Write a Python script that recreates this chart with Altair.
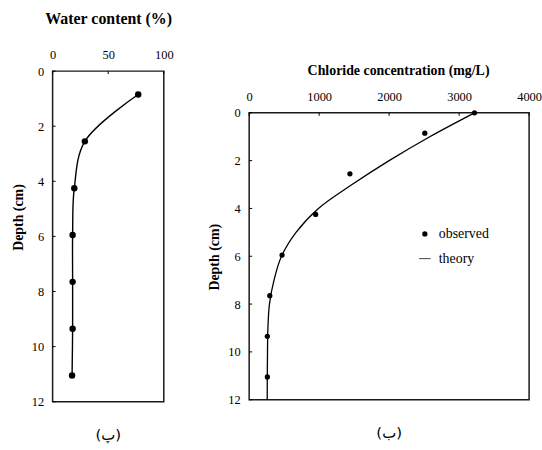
import altair as alt
import pandas as pd

# Water-content profile (measured)
wc_depth = [0.85, 2.55, 4.25, 5.95, 7.65, 9.35, 11.05]
wc_value = [77, 29, 19.5, 18, 18, 18, 17.5]

# Chloride profile: measured points
cl_depth = [0, 0.85, 2.55, 4.25, 5.95, 7.65, 9.35, 11.05]
cl_value = [3220, 2510, 1440, 950, 470, 295, 260, 260]

# Chloride profile: model curve
th_depth = [0, 1, 2, 3, 4, 5, 6, 7, 8, 9, 10, 11, 12]
th_value = [3220, 2580, 2000, 1470, 990, 670, 462, 355, 290, 268, 262, 259, 258]

depth_ticks = [0, 2, 4, 6, 8, 10, 12]
wc_ticks = [0, 50, 100]
cl_ticks = [0, 1000, 2000, 3000, 4000]

SERIF = "Liberation Serif"
ARABIC = "DejaVu Sans"
INK = "black"
FRAME = "#1a1a1a"
PANEL_H = 333          # both panels share this outer height
CL_TOP = 42            # the chloride frame starts this far below the panel top


def depth_axis(title_y):
    return alt.Axis(values=depth_ticks, title="Depth (cm)", tickSize=0, labelPadding=9,
                    domain=False, grid=False, titleFontSize=14, titlePadding=6,
                    titleY=title_y, format="d")


# ---------------- left panel: water content ----------------
wc_df = pd.DataFrame({"depth": wc_depth, "wc": wc_value})
wc_x = alt.X("wc:Q", scale=alt.Scale(domain=[0, 100], nice=False),
             axis=alt.Axis(orient="top", values=wc_ticks, title="Water content (%)",
                           titleFontSize=16, titlePadding=22, tickSize=0, labelPadding=10,
                           domain=False, grid=False, format="d"))
wc_y = alt.Y("depth:Q", scale=alt.Scale(domain=[0, 12], reverse=True, nice=False),
             axis=depth_axis(147))

wc_line = alt.Chart(wc_df).mark_line(interpolate="catmull-rom", color=INK, strokeWidth=1.4).encode(
    x=wc_x, y=wc_y, order=alt.Order("depth:Q"))
wc_pts = alt.Chart(wc_df).mark_circle(size=42, color=INK, opacity=1).encode(x=wc_x, y=wc_y)

# short inward tick marks along the frame
wc_yt = alt.Chart(pd.DataFrame({"depth": depth_ticks})).mark_rule(color=INK, strokeWidth=1).encode(
    y=wc_y, x=alt.value(0), x2=alt.value(3))
wc_xt = alt.Chart(pd.DataFrame({"wc": wc_ticks})).mark_rule(color=INK, strokeWidth=1).encode(
    x=wc_x, y=alt.value(0), y2=alt.value(3))

left = alt.layer(wc_line, wc_pts, wc_yt, wc_xt).properties(
    width=112, height=PANEL_H,
    view=alt.ViewConfig(stroke=FRAME, strokeWidth=1.5),
    title=alt.TitleParams("(پ)", orient="bottom", font=ARABIC, fontSize=15,
                          fontWeight="normal", color=INK, offset=20))

# ---------------- right panel: chloride ----------------
cl_df = pd.DataFrame({"depth": cl_depth, "cl": cl_value, "kind": ["observed"] * len(cl_depth)})
th_df = pd.DataFrame({"depth": th_depth, "cl": th_value})

cl_x = alt.X("cl:Q", scale=alt.Scale(domain=[0, 4000], nice=False),
             axis=alt.Axis(orient="top", values=cl_ticks, title="Chloride concentration (mg/L)",
                           titleFontSize=14, titlePadding=14, tickSize=0, labelPadding=9,
                           domain=False, grid=False, titleX=150, offset=-CL_TOP, format="d"))
cl_y = alt.Y("depth:Q", scale=alt.Scale(domain=[0, 12], range=[CL_TOP, PANEL_H - 2], nice=False),
             axis=depth_axis(CL_TOP + 145))

# plot frame spanning the full data domain
frame_df = pd.DataFrame({"cl": [0], "cl_end": [4000], "depth": [0], "depth_end": [12]})
frame = alt.Chart(frame_df).mark_rect(fillOpacity=0, stroke=FRAME, strokeWidth=1.5).encode(
    x=cl_x, x2="cl_end:Q", y=cl_y, y2="depth_end:Q")

th_line = alt.Chart(th_df).mark_line(interpolate="catmull-rom", color=INK, strokeWidth=1.3).encode(
    x=cl_x, y=cl_y, order=alt.Order("depth:Q"))

cl_pts = alt.Chart(cl_df).mark_point(filled=True, size=28, color=INK, opacity=1).encode(
    x=cl_x, y=cl_y,
    shape=alt.Shape("kind:N",
                    scale=alt.Scale(domain=["observed", "theory"],
                                    range=["circle", "M-2.2,-0.14H2.2V0.14H-2.2Z"]),
                    legend=alt.Legend(title=None, orient="none", legendX=170, legendY=157,
                                      labelFont=SERIF, labelFontSize=14, labelColor=INK,
                                      symbolSize=28, symbolFillColor=INK, symbolStrokeColor=INK,
                                      symbolStrokeWidth=0, rowPadding=11, labelOffset=7)))

cl_yt = alt.Chart(pd.DataFrame({"depth": depth_ticks})).mark_rule(color=INK, strokeWidth=1).encode(
    y=cl_y, x=alt.value(0), x2=alt.value(3))
cl_xt = alt.Chart(pd.DataFrame({"cl": cl_ticks})).mark_rule(color=INK, strokeWidth=1).encode(
    x=cl_x, y=alt.value(CL_TOP), y2=alt.value(CL_TOP + 3))

right = alt.layer(frame, th_line, cl_pts, cl_yt, cl_xt).properties(
    width=282, height=PANEL_H,
    view=alt.ViewConfig(strokeOpacity=0),
    title=alt.TitleParams("(ب)", orient="bottom", font=ARABIC, fontSize=15,
                          fontWeight="normal", color=INK, offset=20))

chart = alt.hconcat(left, right, spacing=33).resolve_legend(shape="independent").properties(
    padding={"left": 10, "top": 8, "right": 0, "bottom": 0}
).configure_axis(
    labelFont=SERIF, labelFontSize=12.5, labelColor=INK, labelFlush=False,
    titleFont=SERIF, titleFontWeight="bold", titleColor=INK
)

chart.save("out.html", embed_options={"renderer": "svg", "actions": False})
